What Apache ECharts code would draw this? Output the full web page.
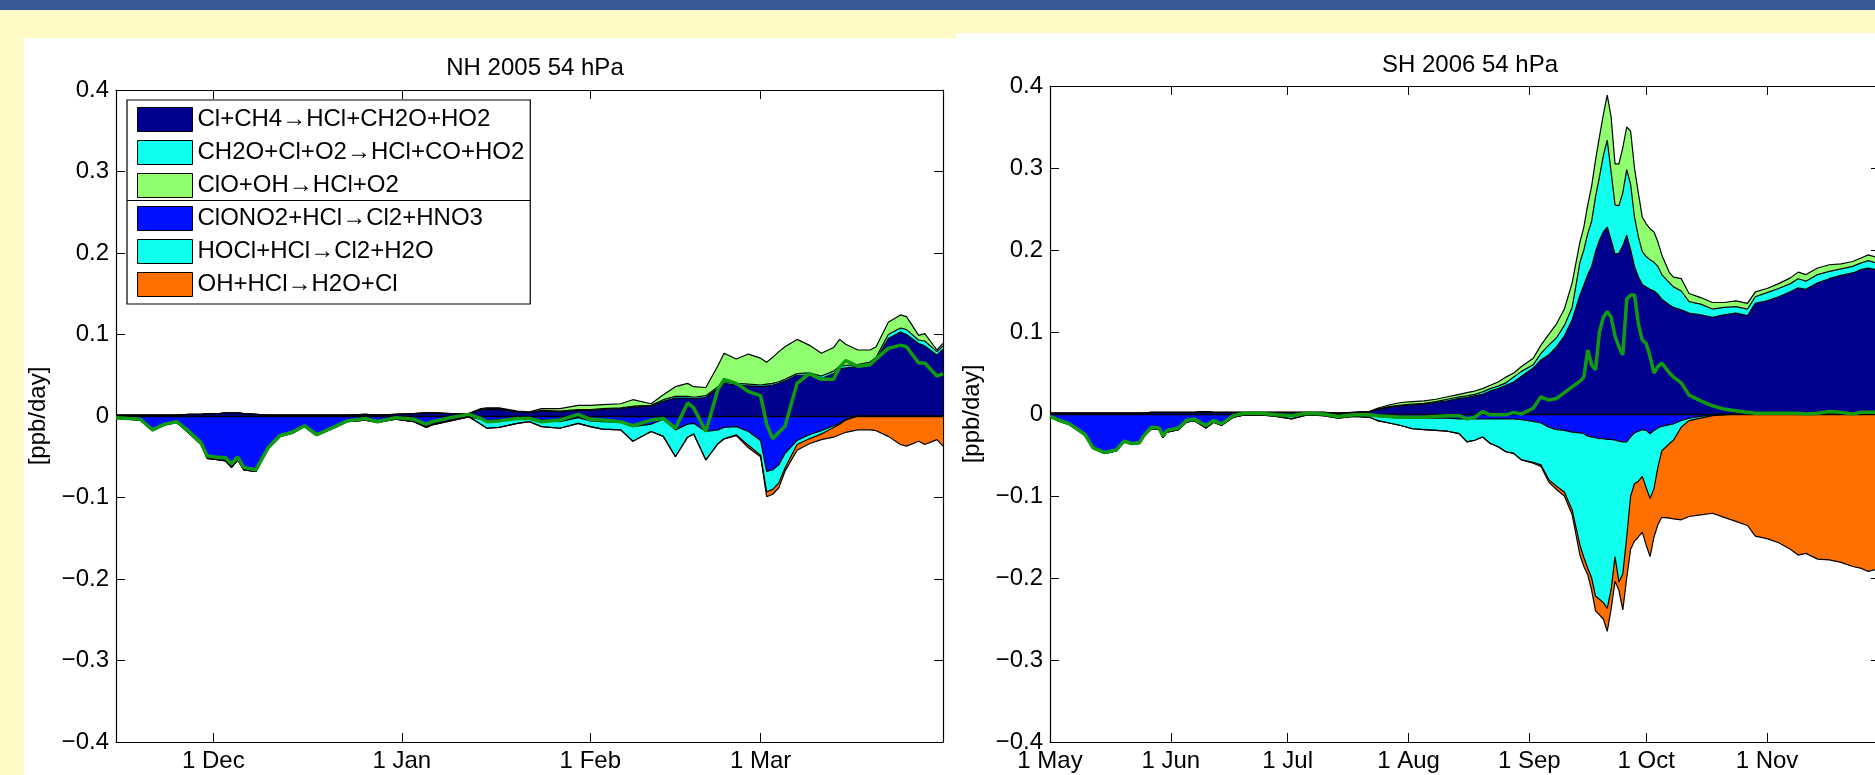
<!DOCTYPE html>
<html>
<head>
<meta charset="utf-8">
<title>HCl production and loss, 54 hPa</title>
<script src="https://cdn.jsdelivr.net/npm/echarts@6/dist/echarts.min.js"></script>
<style>
  html, body { margin: 0; padding: 0; }
  body { width: 1875px; height: 775px; background: #fff9c5; position: relative; overflow: hidden; }
  #band { position: absolute; left: 0; top: 0; width: 1875px; height: 10px; background: #395a96; }
  #nh { position: absolute; left: 24px; top: 38px; width: 932px; height: 737px; background: #fff; }
  #sh { position: absolute; left: 956px; top: 33px; width: 919px; height: 742px; background: #fff; }
</style>
</head>
<body>
<div id="band"></div>
<div id="nh"></div>
<div id="sh"></div>
<script>
// reaction names (legend order) and their colours
var names = [
    'Cl+CH4\u2192HCl+CH2O+HO2',
    'CH2O+Cl+O2\u2192HCl+CO+HO2',
    'ClO+OH\u2192HCl+O2',
    'ClONO2+HCl\u2192Cl2+HNO3',
    'HOCl+HCl\u2192Cl2+H2O',
    'OH+HCl\u2192H2O+Cl'
];
var colors = ['#00008f', '#10ffef', '#8fff70', '#0010ff', '#10ffef', '#ff7000'];
var monthNames = ['Jan', 'Feb', 'Mar', 'Apr', 'May', 'Jun', 'Jul', 'Aug', 'Sep', 'Oct', 'Nov', 'Dec'];

// ---- NH 2005, 54 hPa [ppb/day] ----
var nhTicks = ['2004-12-01', '2005-01-01', '2005-02-01', '2005-03-01'];
var nhDates = [
    '2004-11-15','2004-11-17','2004-11-19','2004-11-21','2004-11-23','2004-11-25','2004-11-27','2004-11-29','2004-11-30',
    '2004-12-02','2004-12-03','2004-12-04','2004-12-05','2004-12-06','2004-12-08','2004-12-10','2004-12-12','2004-12-14','2004-12-16','2004-12-18','2004-12-21','2004-12-23','2004-12-26','2004-12-28','2004-12-31',
    '2005-01-03','2005-01-05','2005-01-06','2005-01-09','2005-01-12','2005-01-14','2005-01-15','2005-01-17','2005-01-20','2005-01-22','2005-01-24','2005-01-27','2005-01-30',
    '2005-02-01','2005-02-03','2005-02-06','2005-02-08','2005-02-11','2005-02-13','2005-02-15','2005-02-17','2005-02-18','2005-02-20','2005-02-22','2005-02-23','2005-02-25','2005-02-27',
    '2005-03-01','2005-03-02','2005-03-03','2005-03-04','2005-03-05','2005-03-07','2005-03-09','2005-03-11','2005-03-13','2005-03-14','2005-03-15','2005-03-17','2005-03-19','2005-03-20','2005-03-22','2005-03-24','2005-03-25','2005-03-27','2005-03-28','2005-03-30','2005-03-31'
];
var nhCH4 = [
    .001,.001,.001,.001,.001,.001,.002,.002,.003,
    .003,.004,.004,.004,.003,.002,.001,.001,.001,.001,.001,.001,.001,.002,.001,.002,
    .003,.004,.004,.003,.003,.007,.008,.008,.005,.004,.006,.005,.007,
    .007,.008,.009,.011,.012,.018,.022,.022,.021,.023,.034,.040,.038,.037,
    .036,.037,.038,.040,.043,.050,.050,.046,.052,.058,.059,.061,.064,.069,.095,.103,.100,.089,.086,.075,.082
];
var nhCH2O = [
    0,0,0,0,0,0,0,0,0,
    0,0,0,0,0,0,0,0,0,0,0,0,0,0,0,0,
    0,0,0,0,0,.001,.001,.001,0,0,.001,.001,.001,
    .001,.001,.001,.001,.001,.002,.002,.002,.002,.002,.002,.002,.002,.002,
    .002,.002,.002,.002,.002,.002,.003,.003,.003,.003,.003,.002,.002,.003,.005,.005,.006,.004,.006,.004,.004
];
var nhClOOH = [
    0,0,0,0,0,0,0,0,0,
    0,0,0,0,0,0,0,0,0,0,0,0,0,0,0,0,
    0,0,0,0,0,.001,.001,.001,.001,.001,.002,.003,.005,
    .005,.005,.005,.008,.002,.006,.012,.016,.013,.010,.026,.035,.030,.037,
    .033,.027,.032,.037,.040,.042,.034,.028,.029,.033,.026,.018,.015,.013,.015,.016,.016,.006,.009,.002,.003
];
var nhClONO2 = [
    -.003,-.004,-.005,-.018,-.011,-.008,-.021,-.035,-.052,
    -.054,-.055,-.063,-.054,-.066,-.068,-.040,-.025,-.021,-.013,-.024,-.014,-.007,-.005,-.008,-.004,
    -.007,-.013,-.010,-.005,-.001,-.004,-.005,-.005,-.004,-.003,-.005,-.007,-.002,
    -.006,-.007,-.008,-.013,-.010,-.004,-.017,-.010,-.009,-.019,-.017,-.014,-.013,-.019,
    -.030,-.068,-.066,-.060,-.046,-.030,-.023,-.018,-.012,-.009,-.004,0,0,0,0,0,0,0,0,0,0
];
var nhHOCl = [
    0,0,0,0,0,0,0,0,0,
    0,0,0,0,0,0,0,0,0,0,0,0,0,0,0,0,
    0,-.001,-.001,-.001,0,-.006,-.010,-.009,-.005,-.004,-.008,-.008,-.007,
    -.007,-.009,-.009,-.018,-.009,-.021,-.033,-.016,-.013,-.035,-.017,-.014,-.010,-.017,
    -.018,-.025,-.024,-.022,-.018,-.005,-.005,-.004,-.002,-.001,-.001,0,0,0,0,0,0,0,0,0,0
];
var nhOH = [
    0,0,0,0,0,0,0,0,0,
    0,0,0,0,0,0,0,0,0,0,0,0,0,0,0,0,
    0,0,0,0,0,0,0,0,0,0,0,0,0,
    0,0,0,0,0,0,0,0,0,0,0,0,-.001,-.003,
    -.002,-.006,-.006,-.006,-.004,-.007,-.006,-.007,-.012,-.013,-.015,-.017,-.017,-.018,-.025,-.035,-.037,-.031,-.035,-.029,-.037
];
var nhNet = [
    -.002,-.003,-.004,-.017,-.010,-.007,-.019,-.033,-.049,
    -.051,-.051,-.059,-.050,-.063,-.066,-.039,-.024,-.020,-.012,-.023,-.013,-.006,-.003,-.007,-.002,
    -.004,-.010,-.007,-.002,.002,-.003,-.007,-.006,-.003,-.003,-.007,-.005,.002,
    -.004,-.005,-.007,-.012,-.005,-.003,-.015,.016,.010,-.019,.033,.045,.040,.030,
    .025,-.010,-.028,-.020,-.013,.040,.052,.045,.045,.060,.068,.061,.063,.070,.083,.087,.085,.065,.065,.049,.052
];

// ---- SH 2006, 54 hPa [ppb/day] ----
var shTicks = ['2006-05-01', '2006-06-01', '2006-07-01', '2006-08-01', '2006-09-01', '2006-10-01', '2006-11-01'];
var shDates = [
    '2006-05-01','2006-05-03','2006-05-06','2006-05-10','2006-05-12','2006-05-15','2006-05-18','2006-05-20','2006-05-22','2006-05-24','2006-05-25','2006-05-27','2006-05-29','2006-05-30','2006-05-31',
    '2006-06-03','2006-06-05','2006-06-07','2006-06-10','2006-06-12','2006-06-14','2006-06-17','2006-06-20','2006-06-24','2006-06-28',
    '2006-07-02','2006-07-06','2006-07-10','2006-07-14','2006-07-18','2006-07-22',
    '2006-07-24','2006-07-27','2006-07-30','2006-08-02','2006-08-05','2006-08-08','2006-08-11','2006-08-14','2006-08-16','2006-08-18','2006-08-20',
    '2006-08-22','2006-08-24','2006-08-26','2006-08-28','2006-08-30','2006-09-02','2006-09-04','2006-09-06','2006-09-08','2006-09-10','2006-09-12',
    '2006-09-14','2006-09-15','2006-09-16','2006-09-17','2006-09-18','2006-09-19','2006-09-20','2006-09-21','2006-09-22','2006-09-23','2006-09-24',
    '2006-09-25','2006-09-26','2006-09-27','2006-09-28','2006-09-29','2006-09-30','2006-10-01','2006-10-02','2006-10-03','2006-10-04','2006-10-05',
    '2006-10-07','2006-10-08','2006-10-10','2006-10-12','2006-10-15','2006-10-18','2006-10-21','2006-10-24','2006-10-27','2006-10-29','2006-11-01',
    '2006-11-04','2006-11-07','2006-11-09','2006-11-11','2006-11-14','2006-11-17','2006-11-20','2006-11-23','2006-11-25','2006-11-27','2006-11-30'
];
var shCH4 = [
    .001,.001,.001,.001,.001,.001,.001,.001,.001,.001,.001,.002,.002,.002,.002,
    .002,.002,.002,.003,.002,.002,.002,.002,.002,.002,
    .002,.002,.002,.001,.002,.003,
    .005,.008,.010,.011,.012,.014,.016,.019,.020,.022,.024,
    .028,.031,.035,.039,.046,.056,.066,.072,.082,.095,.115,
    .145,.157,.170,.180,.198,.212,.222,.228,.212,.195,.196,
    .205,.218,.200,.180,.167,.158,.155,.152,.150,.146,.140,
    .133,.130,.127,.123,.121,.118,.121,.123,.120,.135,.138,
    .143,.149,.154,.152,.160,.165,.169,.172,.176,.178,.175
];
var shCH2O = [
    0,0,0,0,0,0,0,0,0,0,0,0,0,0,0,
    0,0,0,0,0,0,0,0,0,0,
    0,0,0,0,0,0,
    .001,.001,.001,.001,.001,.001,.002,.002,.002,.002,.003,
    .003,.003,.003,.006,.006,.004,.008,.012,.011,.013,.015,
    .040,.043,.050,.055,.067,.077,.093,.106,.083,.060,.058,
    .065,.080,.080,.060,.049,.040,.037,.036,.035,.034,.030,
    .027,.025,.023,.014,.013,.010,.009,.008,.008,.008,.010,
    .010,.010,.011,.010,.010,.009,.008,.008,.008,.009,.008
];
var shClOOH = [
    0,0,0,0,0,0,0,0,0,0,0,0,0,0,0,
    0,0,0,0,0,0,0,0,0,0,
    0,0,0,0,0,0,
    .001,.002,.003,.003,.003,.003,.003,.003,.004,.004,.004,
    .004,.005,.007,.005,.006,.008,.010,.013,.017,.020,.030,
    .025,.028,.035,.043,.045,.049,.050,.055,.067,.050,.051,
    .055,.052,.065,.060,.053,.042,.040,.038,.037,.030,.024,
    .012,.012,.015,.010,.008,.008,.006,.007,.007,.006,.005,
    .006,.007,.008,.008,.008,.008,.006,.006,.006,.007,.007
];
var shClONO2 = [
    -.004,-.008,-.013,-.026,-.042,-.048,-.045,-.034,-.037,-.036,-.028,-.018,-.019,-.029,-.022,
    -.019,-.010,-.008,-.017,-.010,-.014,-.004,-.001,-.001,-.002,
    -.003,0,-.001,-.003,-.002,-.002,
    -.003,-.004,-.005,-.005,-.005,-.005,-.005,-.006,-.006,-.006,-.006,
    -.006,-.006,-.006,-.006,-.007,-.009,-.011,-.016,-.019,-.020,-.022,
    -.023,-.024,-.027,-.028,-.029,-.030,-.030,-.031,-.031,-.032,-.033,
    -.034,-.034,-.028,-.023,-.021,-.019,-.020,-.024,-.020,-.017,-.015,
    -.013,-.012,-.008,-.005,-.003,-.001,0,0,0,0,0,
    0,0,0,0,0,0,0,0,0,0,0
];
var shHOCl = [
    0,0,0,0,0,0,0,0,0,0,0,0,0,0,0,
    0,0,0,0,0,0,0,0,0,-.001,
    -.003,-.001,-.001,-.002,-.001,-.002,
    -.005,-.007,-.009,-.013,-.014,-.015,-.016,-.018,-.028,-.026,-.022,
    -.030,-.034,-.040,-.042,-.049,-.050,-.051,-.064,-.069,-.075,-.095,
    -.137,-.151,-.161,-.172,-.193,-.196,-.200,-.206,-.183,-.142,-.172,
    -.161,-.116,-.072,-.062,-.061,-.057,-.070,-.079,-.071,-.048,-.030,
    -.023,-.020,-.008,-.003,-.002,-.001,-.001,0,0,0,0,
    0,0,0,0,0,0,0,0,0,0,0
];
var shOH = [
    0,0,0,0,0,0,0,0,0,0,0,0,0,0,0,
    0,0,0,0,0,0,0,0,0,0,
    0,0,0,0,0,0,
    0,0,0,0,0,0,0,0,0,0,0,
    0,0,0,0,0,-.001,-.002,-.003,-.004,-.005,-.006,
    -.012,-.011,-.008,-.015,-.018,-.019,-.020,-.028,-.024,-.030,-.010,
    -.044,-.050,-.065,-.070,-.068,-.068,-.070,-.071,-.059,-.070,-.081,
    -.091,-.096,-.113,-.117,-.118,-.119,-.125,-.131,-.136,-.149,-.152,
    -.157,-.165,-.172,-.170,-.177,-.178,-.181,-.186,-.188,-.192,-.188
];
var shNet = [
    -.003,-.007,-.012,-.025,-.041,-.047,-.044,-.033,-.036,-.035,-.027,-.016,-.017,-.027,-.020,
    -.017,-.008,-.006,-.014,-.008,-.012,-.002,.001,.001,-.001,
    -.002,.001,0,-.003,-.001,-.001,
    -.002,-.003,-.004,-.004,-.004,-.003,-.002,-.002,-.006,-.004,.003,
    -.001,-.001,-.001,.002,0,.007,.021,.017,.019,.026,.033,
    .040,.045,.078,.060,.054,.100,.118,.125,.118,.095,.082,
    .072,.140,.145,.145,.110,.090,.086,.070,.050,.058,.062,
    .050,.045,.038,.023,.016,.010,.006,.004,.002,.001,.001,
    .001,.001,.001,0,.001,.003,.002,0,.002,.002,.002
];

var FONT = '"Liberation Sans", Arial, Helvetica, sans-serif';
var FS = 24;

function ms(s) {
    var p = s.split('-');
    return new Date(+p[0], +p[1] - 1, +p[2]).getTime();
}

function pairs(dates, vals) {
    return dates.map(function (d, i) { return [ms(d), vals[i]]; });
}

function fmtDate(v) {
    var d = new Date(v);
    return d.getDate() + ' ' + monthNames[d.getMonth()];
}

function fmtVal(v) {
    if (Math.abs(v) < 1e-9) return '0';
    return (v < 0 ? '\u2212' : '') + Math.abs(v).toFixed(1);
}

function area(i, dates, vals, stack) {
    return {
        name: names[i], type: 'line', stack: stack, stackStrategy: 'all',
        xAxisIndex: 0, yAxisIndex: 0,
        data: pairs(dates, vals), symbol: 'none', showSymbol: false,
        itemStyle: {color: colors[i]},
        lineStyle: {color: '#000', width: 1.2},
        areaStyle: {color: colors[i], opacity: 1},
        emphasis: {disabled: true},
        silent: true, z: 2
    };
}

// series sit on a hidden time axis; the visible box axes are plain value
// axes over the same ms range so the month starts can be given as ticks
function timeAxis(cfg) {
    return {type: 'time', show: false, position: 'bottom', min: ms(cfg.min), max: ms(cfg.max)};
}

function boxXAxis(cfg, top) {
    var ticks = cfg.ticks.map(ms);
    return {
        type: 'value', position: top ? 'top' : 'bottom',
        min: ms(cfg.min), max: ms(cfg.max),
        splitLine: {show: false},
        axisLine: {show: true, onZero: false, lineStyle: {color: '#000', width: 1.2}},
        axisTick: {show: true, inside: true, length: 9, customValues: ticks, lineStyle: {color: '#000', width: 1}},
        axisLabel: top ? {show: false} : {
            show: true, customValues: ticks, formatter: fmtDate,
            color: '#000', fontSize: FS, fontFamily: FONT, margin: 7
        },
        axisPointer: {show: false}
    };
}

function yAxis(right) {
    var ax = {
        type: 'value', position: right ? 'right' : 'left',
        min: -0.4, max: 0.4, interval: 0.1,
        splitLine: {show: false},
        axisLine: {show: true, onZero: false, lineStyle: {color: '#000', width: 1.2}},
        axisTick: {show: true, inside: true, length: 9, lineStyle: {color: '#000', width: 1}},
        axisLabel: right ? {show: false} : {
            show: true, formatter: fmtVal, color: '#000', fontSize: FS, fontFamily: FONT, margin: 7
        }
    };
    if (!right) {
        ax.name = '[ppb/day]';
        ax.nameLocation = 'middle';
        ax.nameGap = 60;
        ax.nameTextStyle = {color: '#000', fontSize: FS, fontFamily: FONT};
    }
    return ax;
}

function makeChart(id, cfg) {
    var chart = echarts.init(document.getElementById(id), null, {renderer: 'canvas'});
    var series = [
        area(0, cfg.dates, cfg.ch4, 'pos'),
        area(1, cfg.dates, cfg.ch2o, 'pos'),
        area(2, cfg.dates, cfg.clooh, 'pos'),
        area(3, cfg.dates, cfg.clono2, 'neg'),
        area(4, cfg.dates, cfg.hocl, 'neg'),
        area(5, cfg.dates, cfg.oh, 'neg'),
        {
            name: 'net', type: 'line', xAxisIndex: 0, yAxisIndex: 0,
            data: pairs(cfg.dates, cfg.net),
            symbol: 'none', showSymbol: false, silent: true, z: 6,
            lineStyle: {color: '#0f9d0f', width: 3.5},
            emphasis: {disabled: true},
            markLine: {
                silent: true, symbol: 'none', z: 5, animation: false,
                label: {show: false},
                lineStyle: {color: '#000', width: 1.3, type: 'solid'},
                data: [{yAxis: 0}]
            }
        }
    ];
    var option = {
        animation: false,
        backgroundColor: '#fff',
        title: {
            text: cfg.title, left: cfg.titleX, top: cfg.titleY, textAlign: 'center',
            textStyle: {color: '#000', fontSize: FS, fontWeight: 'normal', fontFamily: FONT}
        },
        grid: {left: cfg.grid[0], top: cfg.grid[1], width: cfg.grid[2], height: cfg.grid[3],
               containLabel: false, outerBoundsMode: 'none'},
        xAxis: [timeAxis(cfg), boxXAxis(cfg, false), boxXAxis(cfg, true)],
        yAxis: [yAxis(false), yAxis(true)],
        series: series
    };
    if (cfg.legend) {
        option.legend = {
            data: names.map(function (n) { return {name: n, icon: 'rect'}; }),
            orient: 'vertical', left: 103, top: 62,
            itemWidth: 55, itemHeight: 24, itemGap: 8,
            padding: [7, 6, 7, 10],
            backgroundColor: '#fff', borderColor: '#000', borderWidth: 1.2, borderRadius: 0,
            textStyle: {color: '#000', fontSize: FS, fontFamily: FONT},
            itemStyle: {borderColor: '#000', borderWidth: 1},
            selectedMode: false
        };
        option.graphic = [{
            type: 'line', z: 50, silent: true,
            shape: {x1: 103, y1: 162.5, x2: 506, y2: 162.5},
            style: {stroke: '#000', lineWidth: 1.2}
        }];
    }
    chart.setOption(option);
    return chart;
}

var nhChart = makeChart('nh', {
    title: 'NH 2005 54 hPa', titleX: 506, titleY: 13,
    grid: [92, 52, 827, 652],
    min: '2004-11-15', max: '2005-03-31', ticks: nhTicks,
    dates: nhDates, ch4: nhCH4, ch2o: nhCH2O, clooh: nhClOOH,
    clono2: nhClONO2, hocl: nhHOCl, oh: nhOH, net: nhNet,
    legend: true
});

var shChart = makeChart('sh', {
    title: 'SH 2006 54 hPa', titleX: 509, titleY: 15,
    grid: [94, 53, 830, 656],
    min: '2006-05-01', max: '2006-11-30', ticks: shTicks,
    dates: shDates, ch4: shCH4, ch2o: shCH2O, clooh: shClOOH,
    clono2: shClONO2, hocl: shHOCl, oh: shOH, net: shNet,
    legend: false
});
</script>
</body>
</html>
